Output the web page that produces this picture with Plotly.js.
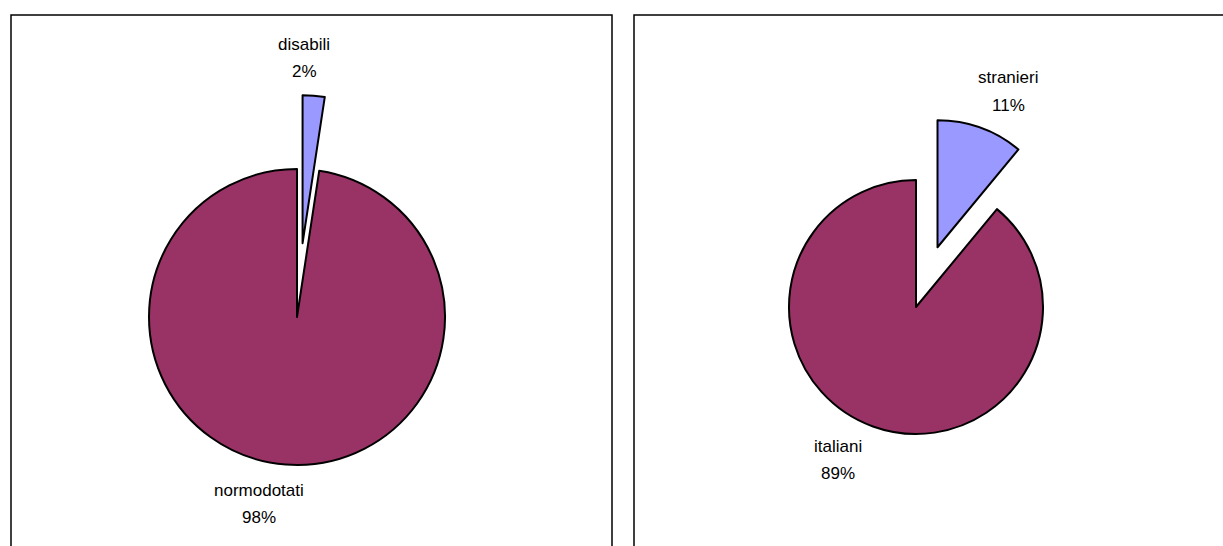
<!DOCTYPE html>
<html>
<head>
<meta charset="utf-8">
<script src="https://cdn.plot.ly/plotly-3.0.1.min.js"></script>
<style>
html,body{margin:0;padding:0;background:#fff;}
#chart{width:1223px;height:546px;}
</style>
</head>
<body>
<div id="chart"></div>
<script>
// Left chart
var labelsA = ["disabili", "normodotati"];
var valuesA = [2.4, 97.6];
// Right chart
var labelsB = ["stranieri", "italiani"];
var valuesB = [11, 89];

var sliceColors = ["#9999FF", "#993366"];

var W = 1223, H = 546;
function px(x){ return x / W; }
function py(y){ return 1 - y / H; }

function pcts(values){
  var tot = values.reduce(function(a,b){return a+b;}, 0);
  return values.map(function(v){ return Math.round(v/tot*100) + "%"; });
}

var commonPie = {
  type: "pie",
  sort: false,
  direction: "clockwise",
  rotation: 0,
  textinfo: "none",
  hoverinfo: "label+percent",
  pull: [0.5, 0],
  marker: { colors: sliceColors, line: { color: "#000000", width: 2 } },
  showlegend: false
};

var traceA = Object.assign({}, commonPie, {
  labels: labelsA, values: valuesA,
  domain: { x: [px(75), px(519)], y: [py(539), py(95)] }
});
var traceB = Object.assign({}, commonPie, {
  labels: labelsB, values: valuesB,
  domain: { x: [px(725.5), px(1106.5)], y: [py(497.5), py(116.5)] }
});

var pA = pcts(valuesA);
var pB = pcts(valuesB);
var fnt = { family: "Liberation Sans, Arial, sans-serif", size: 17, color: "#000" };
function ann(text, x, y){
  return { text: text, x: px(x), y: py(y), xref: "paper", yref: "paper",
           showarrow: false, xanchor: "center", yanchor: "middle", font: fnt, align: "center" };
}

var layout = {
  width: W, height: H,
  margin: { l: 0, r: 0, t: 0, b: 0 },
  paper_bgcolor: "#ffffff",
  plot_bgcolor: "#ffffff",
  showlegend: false,
  annotations: [
    ann(labelsA[0], 304, 44), ann(pA[0], 304, 72),
    ann(labelsA[1], 259, 490), ann(pA[1], 259, 517),
    ann(labelsB[0], 1008, 78), ann(pB[0], 1008, 106),
    ann(labelsB[1], 838, 446), ann(pB[1], 838, 473)
  ],
  shapes: [
    { type: "path", xref: "paper", yref: "paper",
      path: "M " + px(11) + " " + py(560) + " L " + px(11) + " " + py(15) + " L " + px(612) + " " + py(15) + " L " + px(612) + " " + py(560),
      line: { color: "#000", width: 1.5 } },
    { type: "path", xref: "paper", yref: "paper",
      path: "M " + px(634) + " " + py(560) + " L " + px(634) + " " + py(15) + " L " + px(1240) + " " + py(15),
      line: { color: "#000", width: 1.5 } }
  ]
};

Plotly.newPlot("chart", [traceA, traceB], layout, { displayModeBar: false, staticPlot: true });
</script>
</body>
</html>
